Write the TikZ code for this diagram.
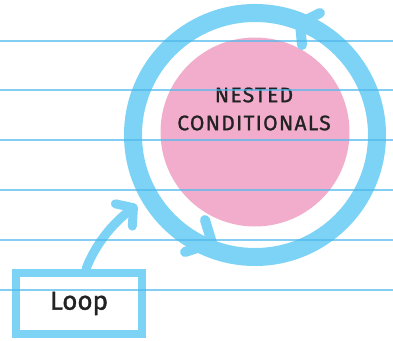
\documentclass[tikz,border=0pt]{standalone}
\usepackage{fontspec}
\setmainfont{Fira Sans}
\newfontfamily\handfont[LetterSpace=6,FakeBold=1.2]{Fira Sans}
\newfontfamily\boxfont[FakeBold=1.5]{Fira Sans}
\usetikzlibrary{arrows.meta}
\definecolor{skyline}{HTML}{7DD3F5}
\definecolor{ruleblue}{HTML}{4FB9EC}
\definecolor{bubble}{HTML}{F3ADCC}
\definecolor{ink}{HTML}{222222}
\tikzset{
  ring/.style={circle, draw=skyline, line width=18pt, inner sep=0pt},
  barb/.style={draw=skyline, line width=10pt, line cap=round, line join=round},
  ruled/.style={draw=ruleblue, line width=1.5pt, opacity=0.7},
  loopbox/.style={draw=skyline, line width=8pt, minimum width=126pt, minimum height=61pt, inner sep=0pt},
}
\begin{document}
\begin{tikzpicture}[x=1pt,y=-1pt]
\useasboundingbox (0,0) rectangle (393,340);
% nested part
\node[circle, fill=bubble, minimum size=189pt, inner sep=0pt] (core) at (255,132) {};
\node[align=center, text=ink, font=\handfont\fontsize{21}{28}\selectfont] (title) at (254,109) {NESTED\\CONDITIONALS};
% the loop ring
\node[ring, minimum size=244pt] (ring) at (255,135) {};
\draw[barb] (320,13) -- (300,23) -- (302,45);
\draw[barb] (205,220) -- (212,243) -- (185,252);
% the label box
\node[loopbox, text=ink, font=\boxfont\fontsize{26}{30}\selectfont] (loop) at (79,303.5) {Loop};
\coordinate (entry) at (137,205);
\draw[barb, line width=9pt, -{Straight Barb[round, length=12pt, width=28pt]}]
  ([xshift=7pt]loop.north) .. controls (95,245) and (112,224) .. (entry);
% ruled paper
\foreach \y in {41,90,140,190,240,290}
  \draw[ruled] (0,\y) -- (393,\y);
\end{tikzpicture}
\end{document}
